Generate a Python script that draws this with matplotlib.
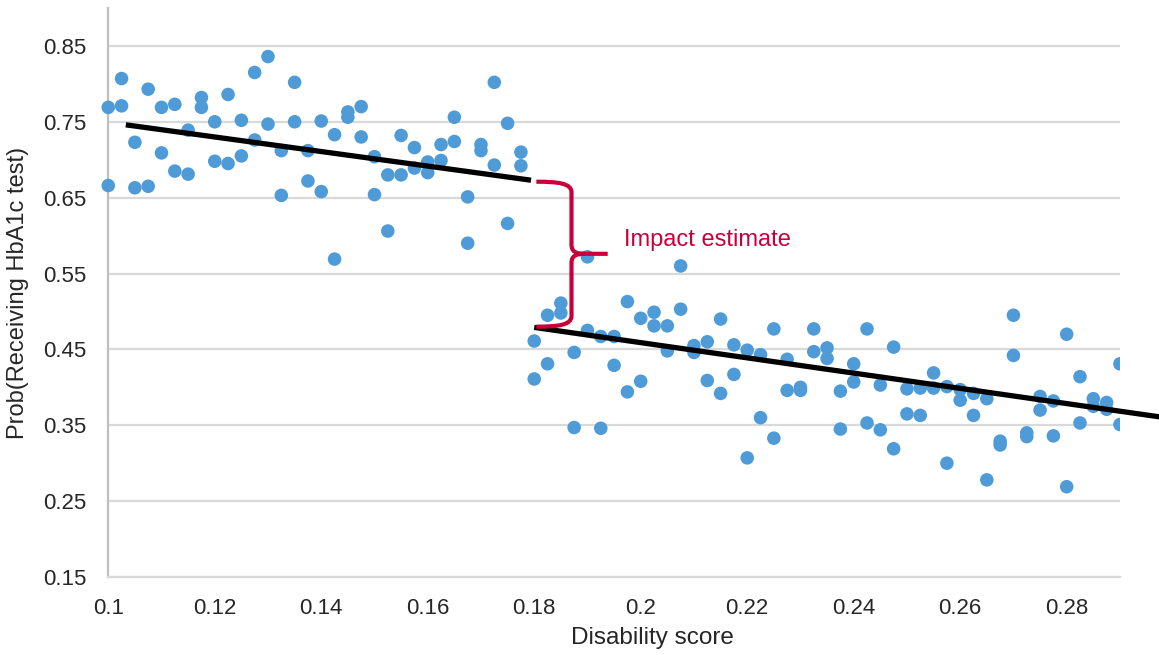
import matplotlib
matplotlib.use("Agg")
import matplotlib.pyplot as plt
from matplotlib.path import Path
from matplotlib.patches import PathPatch, Rectangle

plt.rcParams['font.family'] = ['Liberation Sans', 'DejaVu Sans']

# disability score columns (two observations per column)
x_upper = [0.1000, 0.1025, 0.1050, 0.1075, 0.1100, 0.1125, 0.1150, 0.1175,
           0.1200, 0.1225, 0.1250, 0.1275, 0.1300, 0.1325, 0.1350, 0.1375,
           0.1400, 0.1425, 0.1450, 0.1475, 0.1500, 0.1525, 0.1550, 0.1575,
           0.1600, 0.1625, 0.1650, 0.1675, 0.1700, 0.1725, 0.1750, 0.1775]
y_upper_a = [0.769, 0.807, 0.723, 0.793, 0.769, 0.773, 0.739, 0.782,
             0.750, 0.786, 0.752, 0.815, 0.836, 0.712, 0.802, 0.712,
             0.751, 0.733, 0.763, 0.770, 0.704, 0.680, 0.732, 0.716,
             0.697, 0.720, 0.756, 0.651, 0.720, 0.802, 0.748, 0.710]
y_upper_b = [0.666, 0.771, 0.663, 0.665, 0.709, 0.685, 0.681, 0.769,
             0.698, 0.695, 0.705, 0.726, 0.747, 0.653, 0.750, 0.672,
             0.658, 0.569, 0.756, 0.730, 0.654, 0.606, 0.680, 0.689,
             0.683, 0.699, 0.724, 0.590, 0.712, 0.693, 0.616, 0.692]

x_lower = [0.1800, 0.1825, 0.1850, 0.1875, 0.1900, 0.1925, 0.1950, 0.1975,
           0.2000, 0.2025, 0.2050, 0.2075, 0.2100, 0.2125, 0.2150, 0.2175,
           0.2200, 0.2225, 0.2250, 0.2275, 0.2300, 0.2325, 0.2350, 0.2375,
           0.2400, 0.2425, 0.2450, 0.2475, 0.2500, 0.2525, 0.2550, 0.2575,
           0.2600, 0.2625, 0.2650, 0.2675, 0.2700, 0.2725, 0.2750, 0.2775,
           0.2800, 0.2825, 0.2850, 0.2875, 0.2900]
y_lower_a = [0.461, 0.495, 0.511, 0.446, 0.572, 0.467, 0.467, 0.513,
             0.491, 0.499, 0.481, 0.560, 0.455, 0.460, 0.490, 0.456,
             0.449, 0.443, 0.477, 0.437, 0.400, 0.477, 0.452, 0.395,
             0.431, 0.477, 0.403, 0.453, 0.398, 0.399, 0.419, 0.401,
             0.397, 0.392, 0.385, 0.329, 0.495, 0.340, 0.388, 0.382,
             0.470, 0.414, 0.385, 0.380, 0.431]
y_lower_b = [0.411, 0.431, 0.498, 0.347, 0.475, 0.346, 0.429, 0.394,
             0.408, 0.481, 0.448, 0.503, 0.446, 0.409, 0.392, 0.417,
             0.307, 0.360, 0.333, 0.396, 0.396, 0.447, 0.438, 0.345,
             0.407, 0.353, 0.344, 0.319, 0.365, 0.363, 0.399, 0.300,
             0.383, 0.363, 0.278, 0.324, 0.442, 0.335, 0.370, 0.336,
             0.269, 0.353, 0.375, 0.371, 0.351]

# fitted lines (end points)
fit_upper_x = [0.1033, 0.1794]
fit_upper_y = [0.746, 0.673]
fit_lower_x = [0.1800, 0.2975]
fit_lower_y = [0.479, 0.361]

y_ticks = [0.15, 0.25, 0.35, 0.45, 0.55, 0.65, 0.75, 0.85]
x_ticks = [0.10, 0.12, 0.14, 0.16, 0.18, 0.20, 0.22, 0.24, 0.26, 0.28]
x_tick_labels = ['0.1', '0.12', '0.14', '0.16', '0.18', '0.2', '0.22', '0.24', '0.26', '0.28']

dot_color = '#4E9BD7'
red = '#C8003A'

fig = plt.figure(figsize=(11.59, 6.55), dpi=100)
ax = fig.add_axes([0.0934, 0.1191, 0.9663 - 0.0934, 0.9878 - 0.1191])

ax.set_xlim(0.1, 0.29)
ax.set_ylim(0.15, 0.90)

# points are only clipped at the right edge of the plot area
clip = Rectangle((0.09, 0.10), 0.20, 0.85, transform=ax.transData)
for xs, ys in [(x_upper, y_upper_a), (x_upper, y_upper_b),
               (x_lower, y_lower_a), (x_lower, y_lower_b)]:
    sc = ax.scatter(xs, ys, s=95, color=dot_color, edgecolors='none', zorder=3)
    sc.set_clip_path(clip)

ax.plot(fit_upper_x, fit_upper_y, color='black', lw=3.8, solid_capstyle='butt', zorder=4)
ax.plot(fit_lower_x, fit_lower_y, color='black', lw=3.8, solid_capstyle='butt',
        zorder=4, clip_on=False)

# curly brace showing the jump
xl, xv, xt = 0.1804, 0.1870, 0.1938
yt, ym, yb = 0.671, 0.576, 0.480
verts = [(xl, yt), (0.1845, yt), (xv, yt - 0.002), (xv, yt - 0.014),
         (xv, ym + 0.012),
         (xv, ym + 0.003), (xv + 0.0008, ym), (xv + 0.0025, ym),
         (xt, ym),
         (xv + 0.0025, ym),
         (xv + 0.0008, ym), (xv, ym - 0.003), (xv, ym - 0.012),
         (xv, yb + 0.014),
         (xv, yb + 0.002), (0.1845, yb), (xl, yb)]
codes = [Path.MOVETO, Path.CURVE4, Path.CURVE4, Path.CURVE4,
         Path.LINETO,
         Path.CURVE4, Path.CURVE4, Path.CURVE4,
         Path.LINETO,
         Path.MOVETO,
         Path.CURVE4, Path.CURVE4, Path.CURVE4,
         Path.LINETO,
         Path.CURVE4, Path.CURVE4, Path.CURVE4]
ax.add_patch(PathPatch(Path(verts, codes), fill=False, edgecolor=red, lw=3.0,
                       capstyle='butt', joinstyle='round', zorder=5))
ax.text(0.1968, 0.594, 'Impact estimate', color=red, fontsize=17,
        ha='left', va='center', zorder=5)

ax.set_yticks(y_ticks)
ax.set_yticklabels(['%.2f' % v for v in y_ticks])
ax.set_xticks(x_ticks)
ax.set_xticklabels(x_tick_labels)
ax.tick_params(length=0, labelsize=16, labelcolor='#262626')
ax.tick_params(axis='y', pad=16)
ax.tick_params(axis='x', pad=15)

ax.grid(True, axis='y', color='#D9D9D9', lw=1.6, zorder=0)
ax.set_axisbelow(True)
for s in ['top', 'right']:
    ax.spines[s].set_visible(False)
ax.spines['left'].set_color('#BFBFBF')
ax.spines['left'].set_linewidth(1.6)
ax.spines['bottom'].set_color('#D9D9D9')
ax.spines['bottom'].set_linewidth(1.6)

ax.set_xlabel('Disability score', fontsize=17.5, color='#262626')
ax.xaxis.set_label_coords(0.5375, -0.107)
ax.xaxis.label.set_va('center')
ax.set_ylabel('Prob(Receiving HbA1c test)', fontsize=17, color='#262626', labelpad=10)

fig.savefig('out.png', dpi=100)
